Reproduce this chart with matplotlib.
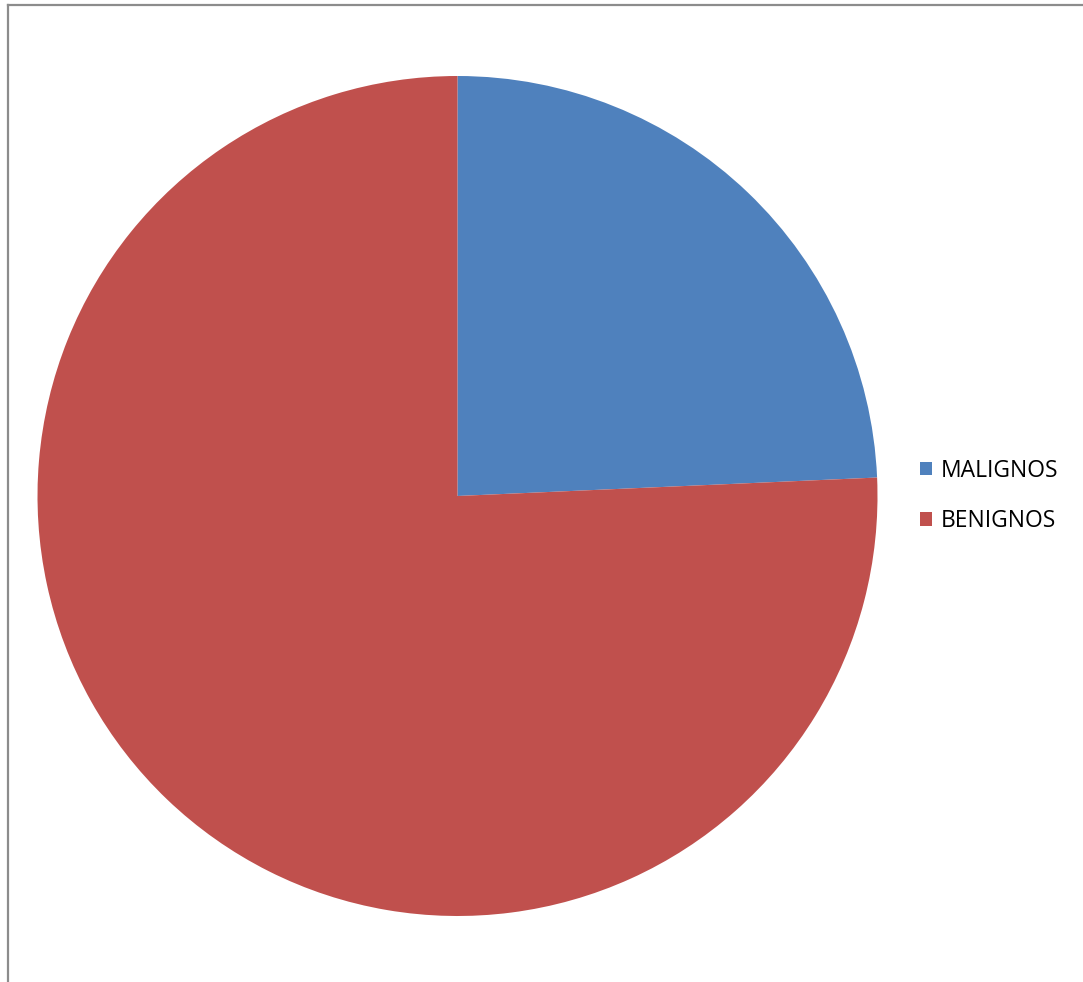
import matplotlib
matplotlib.use("Agg")
import matplotlib.pyplot as plt
from matplotlib.lines import Line2D
from matplotlib.patches import Patch

# Share of cases by diagnosis (%)
categories = ["MALIGNOS", "BENIGNOS"]
values = [24.3, 75.7]
colors = ["#4F81BD", "#C0504D"]

W, H = 1083, 982
fig = plt.figure(figsize=(W / 100, H / 100), dpi=100)
fig.patch.set_facecolor("white")

# Pie area
cx, cy, r = 457.5, 496, 420
ax = fig.add_axes([(cx - r) / W, (H - cy - r) / H, 2 * r / W, 2 * r / H])
ax.pie(values, colors=colors, startangle=90, counterclock=False,
       wedgeprops=dict(linewidth=0))
ax.set_xlim(-1, 1)
ax.set_ylim(-1, 1)
ax.set_aspect("equal")
ax.axis("off")

# Legend
handles = [Patch(facecolor=c, edgecolor="none") for c in colors]
fig.legend(handles, categories, loc="center left",
           bbox_to_anchor=(920 / W, (H - 496) / H),
           frameon=False, prop={"family": "Open Sans", "size": 16.5},
           handlelength=0.52, handleheight=0.52, handletextpad=0.38,
           labelspacing=1.15, borderaxespad=0, borderpad=0)

# Chart-area frame (top and left edges)
fig.add_artist(Line2D([7.5 / W, 7.5 / W], [0, 1 - 5 / H],
                      transform=fig.transFigure, color="#8c8c8c", lw=1.6))
fig.add_artist(Line2D([7.5 / W, 1], [1 - 5 / H, 1 - 5 / H],
                      transform=fig.transFigure, color="#8c8c8c", lw=1.6))

fig.savefig("out.png", dpi=100, facecolor="white")
